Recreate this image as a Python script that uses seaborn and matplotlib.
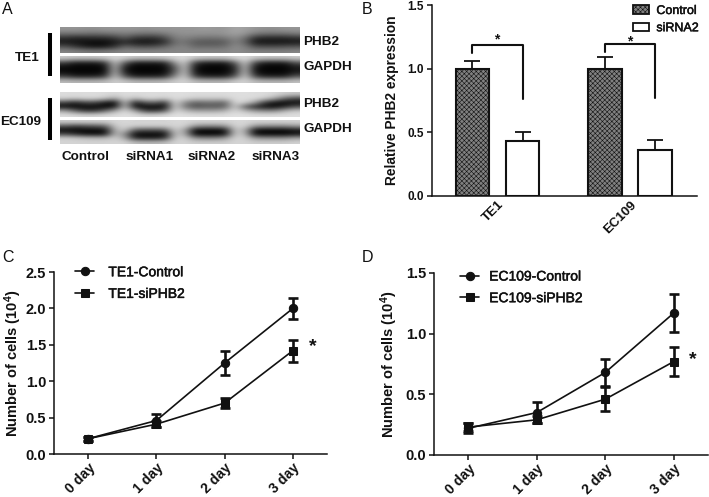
import numpy as np
import pandas as pd
import matplotlib
matplotlib.use("Agg")
import matplotlib.pyplot as plt
import matplotlib.patheffects as pe
from matplotlib.patches import Patch
import seaborn as sns

W, H = 709, 497

# panel A: coarse grey levels of the blots
lanes = ["Control", "siRNA1", "siRNA2", "siRNA3"]
te1_phb2 = [
    [150, 150, 145, 145, 150, 150, 150, 150, 145, 150, 150, 150, 150, 150, 155, 150, 150, 165, 160, 150, 145, 145, 150, 150],
    [115, 115, 115, 110, 115, 120, 125, 120, 115, 115, 125, 140, 145, 145, 145, 145, 150, 160, 150, 125, 115, 115, 115, 125],
    [50, 40, 40, 45, 45, 60, 90, 55, 50, 50, 75, 125, 130, 120, 115, 115, 120, 140, 115, 50, 40, 40, 40, 50],
    [25, 20, 15, 10, 10, 25, 40, 25, 20, 25, 45, 110, 115, 90, 85, 85, 90, 130, 100, 25, 20, 20, 20, 25],
    [80, 55, 30, 20, 25, 50, 100, 80, 75, 80, 100, 125, 130, 105, 105, 105, 110, 140, 125, 80, 75, 75, 80, 85],
    [135, 130, 125, 120, 125, 130, 135, 135, 135, 135, 135, 135, 135, 135, 135, 135, 135, 140, 135, 130, 130, 130, 130, 135],
]
te1_gapdh = [
    [205, 200, 200, 200, 205, 215, 210, 200, 200, 200, 205, 215, 220, 205, 200, 200, 200, 215, 220, 205, 200, 200, 200, 205],
    [60, 25, 25, 25, 50, 195, 90, 25, 25, 25, 35, 150, 205, 60, 25, 25, 25, 90, 205, 70, 25, 25, 25, 80],
    [10, 5, 5, 5, 10, 185, 25, 5, 5, 5, 8, 90, 200, 20, 5, 5, 5, 40, 195, 20, 5, 5, 5, 25],
    [10, 5, 5, 5, 10, 185, 25, 5, 5, 5, 8, 90, 200, 20, 5, 5, 5, 40, 195, 20, 5, 5, 5, 25],
    [60, 30, 30, 30, 55, 195, 80, 30, 30, 30, 40, 140, 205, 60, 30, 30, 30, 85, 205, 65, 30, 30, 30, 80],
    [190, 185, 185, 185, 190, 205, 200, 185, 185, 185, 190, 205, 210, 190, 185, 185, 185, 205, 210, 190, 185, 185, 185, 195],
]
ec109_phb2 = [
    [220, 220, 220, 220, 220, 215, 222, 220, 220, 220, 220, 222, 222, 220, 220, 220, 220, 222, 222, 220, 220, 215, 205, 200],
    [215, 205, 215, 215, 200, 170, 215, 190, 215, 215, 205, 220, 215, 205, 205, 205, 205, 220, 220, 220, 205, 170, 110, 80],
    [70, 40, 70, 70, 30, 10, 200, 30, 90, 100, 55, 215, 140, 100, 110, 110, 100, 215, 210, 160, 60, 20, 8, 12],
    [12, 8, 10, 10, 8, 20, 195, 15, 10, 10, 12, 210, 120, 80, 90, 90, 95, 210, 90, 40, 15, 12, 40, 80],
    [160, 100, 55, 55, 100, 165, 215, 160, 65, 55, 90, 215, 185, 160, 160, 160, 175, 215, 185, 150, 135, 135, 175, 200],
    [222, 220, 215, 215, 220, 222, 225, 222, 215, 215, 220, 225, 225, 222, 222, 222, 222, 225, 225, 222, 222, 222, 222, 222],
]
ec109_gapdh = [
    [205, 205, 205, 205, 205, 212, 215, 212, 212, 212, 212, 215, 215, 210, 210, 210, 210, 215, 215, 210, 210, 210, 210, 210],
    [90, 70, 80, 90, 100, 200, 212, 205, 205, 205, 205, 212, 210, 150, 140, 140, 150, 210, 210, 150, 140, 140, 140, 155],
    [10, 8, 8, 10, 15, 175, 200, 90, 80, 80, 90, 205, 165, 15, 10, 10, 20, 200, 175, 20, 10, 10, 10, 25],
    [70, 45, 20, 15, 20, 185, 140, 10, 8, 8, 10, 190, 175, 10, 8, 8, 15, 200, 185, 15, 8, 8, 8, 20],
    [205, 200, 190, 185, 185, 205, 165, 40, 30, 30, 50, 200, 205, 140, 130, 130, 150, 210, 205, 150, 140, 140, 140, 160],
    [212, 212, 210, 210, 210, 212, 212, 190, 185, 185, 190, 212, 212, 205, 205, 205, 205, 212, 212, 205, 205, 205, 205, 210],
]

# panel B
groups = ["TE1", "EC109"]
control_mean = [1.0, 1.0]
control_err = [0.06, 0.09]
sirna_mean = [0.43, 0.36]
sirna_err = [0.07, 0.08]
bracket_top = [1.185, 1.19]
bracket_left = [1.12, 1.13]
bracket_right = [0.76, 0.77]

# panels C and D
days = ["0 day", "1 day", "2 day", "3 day"]
te1_control = [0.21, 0.46, 1.25, 2.0]
te1_control_err = [0.03, 0.09, 0.17, 0.14]
te1_si = [0.21, 0.41, 0.70, 1.42]
te1_si_err = [0.03, 0.04, 0.07, 0.15]
ec_control = [0.22, 0.35, 0.68, 1.17]
ec_control_err = [0.04, 0.09, 0.11, 0.16]
ec_si = [0.23, 0.29, 0.46, 0.77]
ec_si_err = [0.03, 0.03, 0.10, 0.12]

sns.set_theme(style="ticks")
plt.rcParams["font.family"] = ["Liberation Sans", "DejaVu Sans"]
plt.rcParams["mathtext.fontset"] = "custom"
plt.rcParams["mathtext.rm"] = "Liberation Sans:bold"
plt.rcParams["mathtext.default"] = "rm"
plt.rcParams["hatch.linewidth"] = 0.4
plt.rcParams["hatch.color"] = "black"

fig = plt.figure(figsize=(W / 100, H / 100), dpi=100, facecolor="white")


def px_axes(x0, y0, x1, y1):
    return fig.add_axes([x0 / W, 1 - y1 / H, (x1 - x0) / W, (y1 - y0) / H])


def px_text(x, y, s, **kw):
    kw.setdefault("color", "#111111")
    kw.setdefault("va", "center")
    return fig.text(x / W, 1 - y / H, s, **kw)


def blot(levels, x0, y0, x1, y1):
    ax = px_axes(x0, y0, x1, y1)
    ax.imshow(levels, cmap="gray", vmin=0, vmax=255, aspect="auto", interpolation="bicubic")
    ax.axis("off")


def style_axis(ax):
    sns.despine(ax=ax)
    for side in ("left", "bottom"):
        ax.spines[side].set_linewidth(1.1)
        ax.spines[side].set_color("#111111")
    ax.tick_params(width=1.1, length=3.6, color="#111111", pad=2)


def semi_bold(leg):
    # the legend text sits between regular and bold in the reference
    for t in leg.get_texts():
        t.set_color("#111111")
        t.set_path_effects([pe.withStroke(linewidth=0.35, foreground="#111111")])


# A: western blots
blot(te1_phb2, 60, 27, 300, 53)
blot(te1_gapdh, 60, 56, 300, 83)
blot(ec109_phb2, 60, 92, 300, 117)
blot(ec109_gapdh, 60, 120, 300, 144)

for y0, y1 in [(33, 76), (98, 140)]:
    fig.add_artist(plt.Line2D([50 / W, 50 / W], [1 - y0 / H, 1 - y1 / H], color="black", lw=2.9, solid_capstyle="butt"))
px_text(27, 58, "TE1", fontsize=9.7, weight="bold", ha="center")
px_text(21, 122, "EC109", fontsize=9.7, weight="bold", ha="center")
for y, s in [(42, "PHB2"), (67, "GAPDH"), (104, "PHB2"), (129, "GAPDH")]:
    px_text(303, y, s, fontsize=9.7, weight="bold", ha="left")
for x, s in zip([86, 150, 212, 276], lanes):
    px_text(x, 157, s, fontsize=9.7, weight="bold", ha="center")

for x, y, s in [(2, 9, "A"), (362, 9, "B"), (2, 257, "C"), (362, 257, "D")]:
    px_text(x, y, s, fontsize=11.5, ha="left")

# B: bars
ax_b = px_axes(432, 5, 697, 196)
bars = pd.DataFrame({
    "group": groups * 2,
    "value": control_mean + sirna_mean,
    "kind": ["Control"] * 2 + ["siRNA2"] * 2,
})
sns.barplot(data=bars, x="group", y="value", hue="kind", palette=["#808080", "white"],
            width=0.755, gap=0.337, saturation=1, edgecolor="#111111", linewidth=1.5,
            legend=False, ax=ax_b)
for bar in ax_b.containers[0]:
    bar.set_hatch("xxxxxxx")
centers = []
for cont, means, errs in zip(ax_b.containers, [control_mean, sirna_mean], [control_err, sirna_err]):
    xs = [b.get_x() + b.get_width() / 2 for b in cont]
    centers.append(xs)
    ax_b.errorbar(xs, means, yerr=[[0, 0], errs], fmt="none", ecolor="#111111",
                  elinewidth=1.3, capsize=6, capthick=1.3)
for i in range(2):
    x0, x1 = centers[0][i], centers[1][i]
    ax_b.plot([x0, x0, x1, x1], [bracket_left[i], bracket_top[i], bracket_top[i], bracket_right[i]],
              color="#111111", lw=1.5)
px_text(497, 39, "*", fontsize=10, weight="bold", ha="center")
px_text(630, 41, "*", fontsize=10, weight="bold", ha="center")
ax_b.set_xlim(-0.494, 1.505)
ax_b.set_ylim(0, 1.5)
ax_b.set_yticks([0, 0.5, 1.0, 1.5], ["0.0", "0.5", "1.0", "1.5"])
ax_b.set_xlabel("")
ax_b.set_ylabel("Relative PHB2 expression", fontsize=9.9, weight="bold", color="#111111", labelpad=6)
style_axis(ax_b)
ax_b.tick_params(axis="x", length=0, pad=2)
for lab in ax_b.get_yticklabels():
    lab.set(fontsize=8.5, weight="bold", color="#111111")
for lab in ax_b.get_xticklabels():
    lab.set(fontsize=9.5, weight="bold", color="#111111", rotation=45, ha="right", rotation_mode="anchor")
leg_b = ax_b.legend(handles=[Patch(facecolor="#808080", edgecolor="#111111", hatch="xxxxxxx", lw=1.3, label="Control"),
                             Patch(facecolor="white", edgecolor="#111111", lw=1.3, label="siRNA2")],
                    frameon=False, loc="upper left", bbox_to_anchor=(0.757, 1.0), borderaxespad=0,
                    prop={"size": 9}, handlelength=1.35, handleheight=0.7, handletextpad=0.55,
                    labelspacing=0.42, borderpad=0)
semi_bold(leg_b)


# C / D: growth curves
def growth(box, ctl, ctl_err, si, si_err, names, ymax, yticks, legend_at, text_pad, label_pad, star):
    ax = px_axes(*box)
    for vals, errs, mk, name in [(ctl, ctl_err, "o", names[0]), (si, si_err, "s", names[1])]:
        sns.lineplot(x=days, y=vals, marker=mk, markersize=6, color="#111111", lw=1.2,
                     markeredgecolor="#111111", errorbar=None, label=name, ax=ax)
        ax.errorbar(range(len(days)), vals, yerr=errs, fmt="none", ecolor="#111111",
                    elinewidth=1.9, capsize=3.6, capthick=1.9)
    ax.set_xlim(-0.5, 3.5)
    ax.set_ylim(0, ymax)
    ax.set_yticks(yticks, [f"{t:.1f}" for t in yticks])
    ax.set_xlabel("")
    ax.set_ylabel(r"Number of cells (10$^{4}$)", fontsize=10.5, weight="bold", color="#111111", labelpad=label_pad)
    style_axis(ax)
    ax.tick_params(axis="x", pad=1)
    for lab in ax.get_yticklabels():
        lab.set(fontsize=10.5, weight="bold", color="#111111")
    for lab in ax.get_xticklabels():
        lab.set(fontsize=10.1, weight="bold", color="#111111", rotation=45, ha="right", rotation_mode="anchor")
    leg = ax.legend(frameon=False, loc="upper left", bbox_to_anchor=legend_at, prop={"size": 10},
                    handlelength=1.4, handletextpad=text_pad, labelspacing=0.55, borderpad=0, borderaxespad=0)
    semi_bold(leg)
    px_text(star[0], star[1], "*", fontsize=14, weight="bold", ha="center")
    return ax


growth((54, 272, 327, 454), te1_control, te1_control_err, te1_si, te1_si_err,
       ["TE1-Control", "TE1-siPHB2"], 2.5, [0, 0.5, 1.0, 1.5, 2.0, 2.5], (0.077, 1.037), 1.0, 1, (313, 347))
growth((434, 273, 708, 455), ec_control, ec_control_err, ec_si, ec_si_err,
       ["EC109-Control", "EC109-siPHB2"], 1.5, [0, 0.5, 1.0, 1.5], (0.095, 1.019), 0.7, 4, (693, 360))

fig.savefig("out.png", dpi=100)
